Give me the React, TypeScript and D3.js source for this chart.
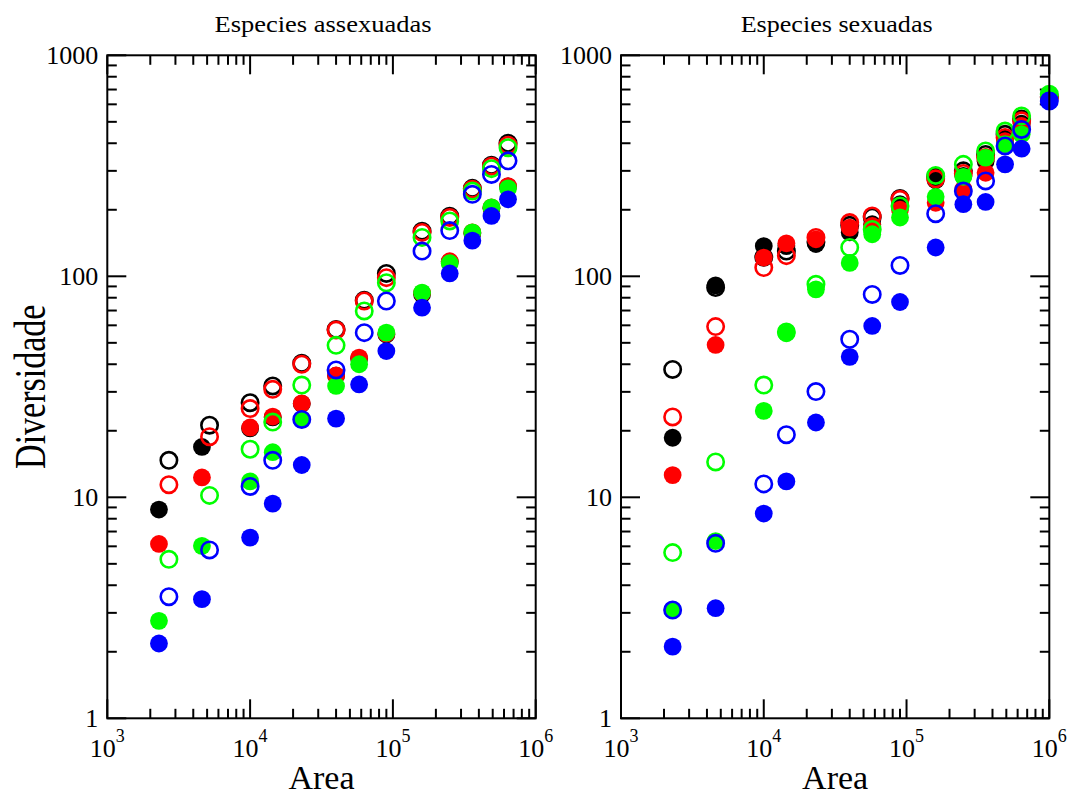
import React from "react";
import * as d3 from "d3";

// Areas sampled in the asexual runs (filled and open symbols use slightly different areas)
const areaAsexFilled = [2300, 4600, 10000, 14400, 23000, 40000, 58000, 90000, 160000, 250000, 360000, 490000, 640000];
const areaAsexOpen = [2700, 5200, 10000, 14400, 23000, 40000, 63000, 90000, 160000, 250000, 360000, 490000, 640000];

const asexBlackFilled = [8.8, 16.9, 20.5, 23.0, 26.5, 35.5, 42.5, 54.5, 83, 116, 156, 203, 255];
const asexRedFilled = [6.15, 12.3, 20.7, 23.2, 26.6, 35.6, 42.9, 55, 84, 117, 158, 205, 256];
const asexGreenFilled = [2.76, 6.03, 11.8, 16.0, 22.5, 31.9, 40.0, 55.6, 84.4, 114.6, 158, 205, 250];
const asexBlueFilled = [2.18, 3.46, 6.57, 9.36, 14.0, 22.7, 32.4, 45.9, 72.1, 103, 145, 187.5, 223];
const asexBlackOpen = [14.7, 21.2, 26.8, 31.9, 40.4, 57.5, 78, 103, 160, 187, 250, 318, 400];
const asexRedOpen = [11.4, 18.8, 25.2, 30.8, 40.0, 57.1, 77.3, 98.6, 158, 184.6, 248, 315, 392];
const asexGreenOpen = [5.24, 10.2, 16.5, 21.9, 32.2, 48.7, 69.7, 93.5, 150, 178, 243, 307, 382];
const asexBlueOpen = [3.55, 5.78, 11.2, 14.7, 22.5, 37.7, 55.6, 77.3, 130, 161, 235, 289, 333];

// Areas sampled in the sexual runs
const areaSex = [2300, 4600, 10000, 14400, 23200, 40000, 57500, 90000, 160000, 250000, 358000, 490000, 640000, 1000000];

const sexBlackFilled = [18.6, 91, 137, 137, 140, 158, 172, 212, 272, 285, 332, 420, 490, 650];
const sexRedFilled = [12.6, 48.9, 121.6, 141, 147, 166, 169, 200, 215, 248, 294, 409, 479, 640];
const sexGreenFilled = [3.09, 6.34, 24.6, 55.2, 87.3, 115, 155, 184.5, 229, 282, 344, 396, 439, 655];
const sexBlueFilled = [2.11, 3.15, 8.44, 11.8, 21.8, 43.2, 59.6, 76.5, 135, 212, 217, 321, 378, 625];
const sexBlackOpen = [37.9, 89, 122, 130, 143, 170, 185, 225, 282, 300, 356, 439, 515, 650];
const sexRedOpen = [23.1, 59.2, 109.5, 124, 150, 175, 187.5, 223, 276, 292, 345, 425, 505, 645];
const sexGreenOpen = [5.62, 14.45, 32.2, 56, 92, 135, 163, 208, 286, 321, 369, 454, 531, 666];
const sexBlueOpen = [3.09, 6.19, 11.5, 19.2, 30.1, 51.9, 82.8, 112, 192, 243, 270, 389, 462, 621];

const xMajorExponents = [3, 4, 5, 6];
const yMajorLabels = ["1", "10", "100", "1000"];
const yMajorValues = [1, 10, 100, 1000];

const BLACK = "#000000";
const RED = "#ff0000";
const GREEN = "#00ff00";
const BLUE = "#0000ff";

type Series = { area: number[]; values: number[]; color: string; filled: boolean };

const asexSeries: Series[] = [
  { area: areaAsexFilled, values: asexBlackFilled, color: BLACK, filled: true },
  { area: areaAsexOpen, values: asexBlackOpen, color: BLACK, filled: false },
  { area: areaAsexFilled, values: asexRedFilled, color: RED, filled: true },
  { area: areaAsexOpen, values: asexRedOpen, color: RED, filled: false },
  { area: areaAsexFilled, values: asexGreenFilled, color: GREEN, filled: true },
  { area: areaAsexOpen, values: asexGreenOpen, color: GREEN, filled: false },
  { area: areaAsexFilled, values: asexBlueFilled, color: BLUE, filled: true },
  { area: areaAsexOpen, values: asexBlueOpen, color: BLUE, filled: false },
];

const sexSeries: Series[] = [
  { area: areaSex, values: sexBlackFilled, color: BLACK, filled: true },
  { area: areaSex, values: sexBlackOpen, color: BLACK, filled: false },
  { area: areaSex, values: sexRedFilled, color: RED, filled: true },
  { area: areaSex, values: sexRedOpen, color: RED, filled: false },
  { area: areaSex, values: sexGreenFilled, color: GREEN, filled: true },
  { area: areaSex, values: sexGreenOpen, color: GREEN, filled: false },
  { area: areaSex, values: sexBlueFilled, color: BLUE, filled: true },
  { area: areaSex, values: sexBlueOpen, color: BLUE, filled: false },
];

const FONT = "'Liberation Serif', 'Times New Roman', Times, serif";
const TOP = 55.3;
const BOTTOM = 718.3;
const MAJOR = 19;
const MINOR = 9.5;

function minorTicks(lo: number, hi: number): number[] {
  const out: number[] = [];
  for (let e = lo; e < hi; e++) {
    for (let m = 2; m <= 9; m++) out.push(m * Math.pow(10, e));
  }
  return out;
}

function Panel({ left, right, title, titleWidth, series, yTitle }: { left: number; right: number; title: string; titleWidth: number; series: Series[]; yTitle?: string }) {
  const x = d3.scaleLog().domain([1e3, 1e6]).range([left, right]);
  const y = d3.scaleLog().domain([1, 1000]).range([BOTTOM, TOP]);
  const xMinor = minorTicks(3, 6);
  const yMinor = minorTicks(0, 3);
  const cx = (left + right) / 2;

  return (
    <g>
      <text x={cx + 1.5} y={32} textAnchor="middle" fontFamily={FONT} fontSize={24} textLength={titleWidth} lengthAdjust="spacingAndGlyphs">{title}</text>
      <g stroke="#000" strokeWidth={2} fill="none">
        {xMajorExponents.map((e) => {
          const px = x(Math.pow(10, e));
          return (
            <g key={"xM" + e}>
              <line x1={px} x2={px} y1={BOTTOM} y2={BOTTOM - MAJOR} />
              <line x1={px} x2={px} y1={TOP} y2={TOP + MAJOR} />
            </g>
          );
        })}
        {xMinor.map((v) => {
          const px = x(v);
          return (
            <g key={"xm" + v}>
              <line x1={px} x2={px} y1={BOTTOM} y2={BOTTOM - MINOR} />
              <line x1={px} x2={px} y1={TOP} y2={TOP + MINOR} />
            </g>
          );
        })}
        {yMajorValues.map((v) => {
          const py = y(v);
          return (
            <g key={"yM" + v}>
              <line x1={left} x2={left + MAJOR} y1={py} y2={py} />
              <line x1={right} x2={right - MAJOR} y1={py} y2={py} />
            </g>
          );
        })}
        {yMinor.map((v) => {
          const py = y(v);
          return (
            <g key={"ym" + v}>
              <line x1={left} x2={left + MINOR} y1={py} y2={py} />
              <line x1={right} x2={right - MINOR} y1={py} y2={py} />
            </g>
          );
        })}
      </g>
      {series.map((s, si) => (
        <g key={"s" + si}>
          {s.values.map((v, i) =>
            s.filled ? (
              <circle key={i} cx={x(s.area[i])} cy={y(v)} r={8.9} fill={s.color} />
            ) : (
              <circle key={i} cx={x(s.area[i])} cy={y(v)} r={8.2} fill="none" stroke={s.color} strokeWidth={2.6} />
            )
          )}
        </g>
      ))}
      <rect x={left} y={TOP} width={right - left} height={BOTTOM - TOP} fill="none" stroke="#000" strokeWidth={2} />
      {yMajorValues.map((v, i) => (
        <text key={"yl" + v} x={left - 9} y={y(v) + 9} textAnchor="end" fontFamily={FONT} fontSize={26}>{yMajorLabels[i]}</text>
      ))}
      {xMajorExponents.map((e) => (
        <text key={"xl" + e} x={x(Math.pow(10, e))} y={757} textAnchor="middle" fontFamily={FONT} fontSize={26}>
          10<tspan dy={-15} fontSize={18}>{e}</tspan>
        </text>
      ))}
      <text x={cx} y={789} textAnchor="middle" fontFamily={FONT} fontSize={34}>Area</text>
      {yTitle && (
        <text transform={`translate(45, ${(TOP + BOTTOM) / 2}) rotate(-90) scale(1, 1.3)`} textAnchor="middle" fontFamily={FONT} fontSize={34}>{yTitle}</text>
      )}
    </g>
  );
}

export default function App() {
  return (
    <svg width={1069} height={796} style={{ position: "absolute", left: 0, top: 0, background: "#fff" }}>
      <Panel left={107.3} right={535.7} title="Especies assexuadas" titleWidth={217} series={asexSeries} yTitle="Diversidade" />
      <Panel left={621} right={1049.3} title="Especies sexuadas" titleWidth={192} series={sexSeries} />
    </svg>
  );
}
